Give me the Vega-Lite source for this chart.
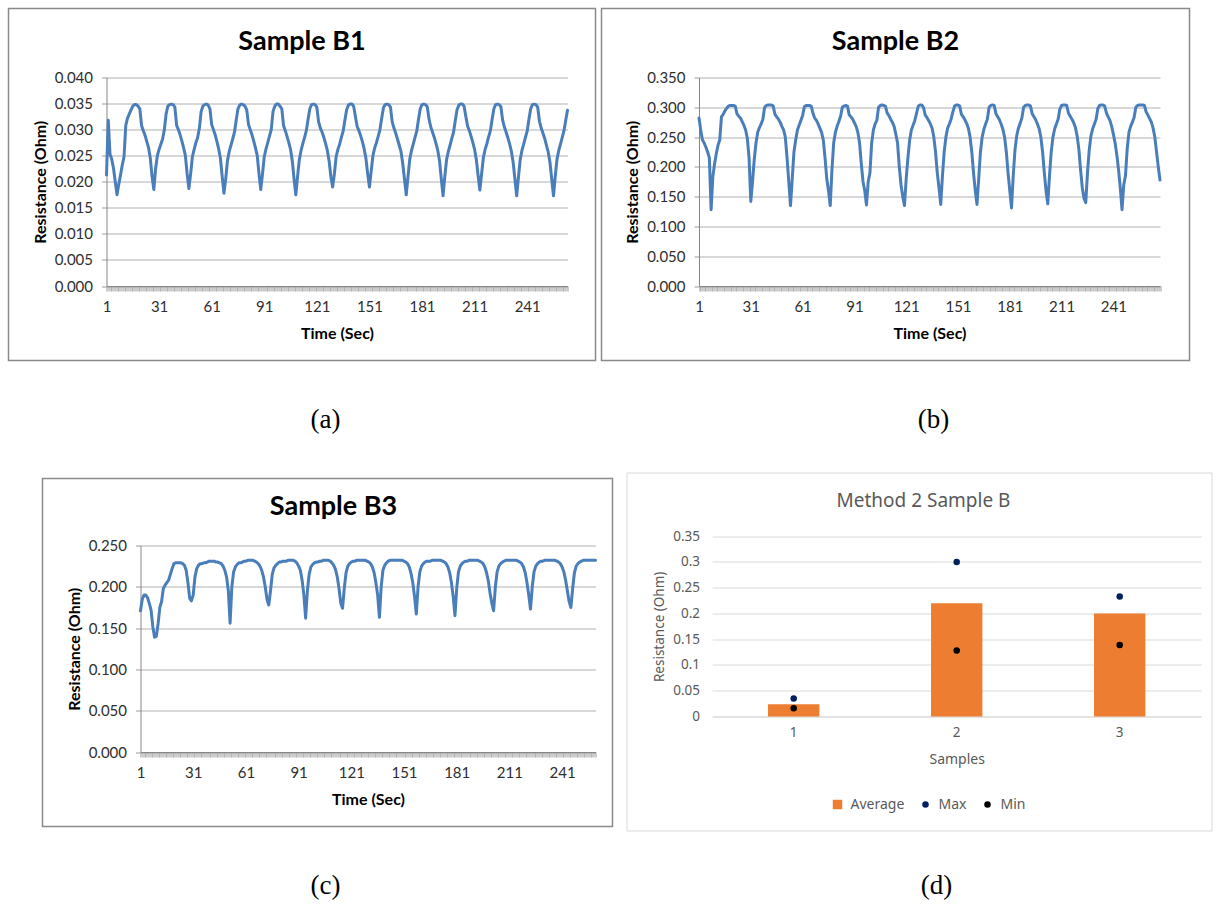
{
  "$schema": "https://vega.github.io/schema/vega-lite/v6.json",
  "background": "#ffffff",
  "padding": {"left": 7.5, "top": 7.5, "right": 2, "bottom": 2},
  "autosize": {"type": "pad"},
  "config": {
    "view": {"stroke": null},
    "title": {"font": "Lato", "fontWeight": "bold", "color": "#000000", "frame": "group", "anchor": "middle"},
    "axis": {
      "domainColor": "#868686", "domainWidth": 1,
      "tickColor": "#9a9a9a", "tickSize": 5, "tickWidth": 1,
      "gridColor": "#b0b0b0", "gridWidth": 1,
      "labelFont": "Lato", "labelFontSize": 15, "labelColor": "#2e2e2e",
      "titleFont": "Lato", "titleFontSize": 16, "titleFontWeight": "bold", "titleColor": "#000000"
    },
    "axisX": {"grid": false, "labelPadding": 8, "titlePadding": 11, "labelOverlap": false, "labelFlush": false},
    "axisY": {"grid": true, "labelPadding": 9, "titlePadding": 6}
  },
  "datasets": {
    "b1": [
      {"t":1,"r":0.0213},{"t":2,"r":0.0318},{"t":3,"r":0.0253},{"t":4,"r":0.0243},{"t":5,"r":0.0226},{"t":6,"r":0.0200},{"t":7,"r":0.0175},{"t":8,"r":0.0195},{"t":9,"r":0.0213},{"t":10,"r":0.0232},
      {"t":11,"r":0.0248},{"t":12,"r":0.0308},{"t":13,"r":0.0322},{"t":14,"r":0.0330},{"t":15,"r":0.0338},{"t":16,"r":0.0345},{"t":17,"r":0.0348},{"t":18,"r":0.0348},{"t":19,"r":0.0345},{"t":20,"r":0.0340},
      {"t":21,"r":0.0308},{"t":22,"r":0.0298},{"t":23,"r":0.0289},{"t":24,"r":0.0277},{"t":25,"r":0.0265},{"t":26,"r":0.0245},{"t":27,"r":0.0210},{"t":28,"r":0.0185},{"t":29,"r":0.0225},{"t":30,"r":0.0250},
      {"t":31,"r":0.0262},{"t":32,"r":0.0272},{"t":33,"r":0.0282},{"t":34,"r":0.0300},{"t":35,"r":0.0330},{"t":36,"r":0.0345},{"t":37,"r":0.0348},{"t":38,"r":0.0349},{"t":39,"r":0.0348},{"t":40,"r":0.0343},
      {"t":41,"r":0.0308},{"t":42,"r":0.0300},{"t":43,"r":0.0290},{"t":44,"r":0.0278},{"t":45,"r":0.0265},{"t":46,"r":0.0250},{"t":47,"r":0.0215},{"t":48,"r":0.0187},{"t":49,"r":0.0215},{"t":50,"r":0.0248},
      {"t":51,"r":0.0262},{"t":52,"r":0.0275},{"t":53,"r":0.0285},{"t":54,"r":0.0303},{"t":55,"r":0.0335},{"t":56,"r":0.0345},{"t":57,"r":0.0348},{"t":58,"r":0.0349},{"t":59,"r":0.0347},{"t":60,"r":0.0340},
      {"t":61,"r":0.0310},{"t":62,"r":0.0300},{"t":63,"r":0.0290},{"t":64,"r":0.0277},{"t":65,"r":0.0263},{"t":66,"r":0.0245},{"t":67,"r":0.0210},{"t":68,"r":0.0178},{"t":69,"r":0.0205},{"t":70,"r":0.0240},
      {"t":71,"r":0.0258},{"t":72,"r":0.0270},{"t":73,"r":0.0282},{"t":74,"r":0.0295},{"t":75,"r":0.0318},{"t":76,"r":0.0340},{"t":77,"r":0.0347},{"t":78,"r":0.0349},{"t":79,"r":0.0348},{"t":80,"r":0.0345},
      {"t":81,"r":0.0338},{"t":82,"r":0.0310},{"t":83,"r":0.0300},{"t":84,"r":0.0290},{"t":85,"r":0.0278},{"t":86,"r":0.0265},{"t":87,"r":0.0250},{"t":88,"r":0.0215},{"t":89,"r":0.0185},{"t":90,"r":0.0215},
      {"t":91,"r":0.0248},{"t":92,"r":0.0263},{"t":93,"r":0.0275},{"t":94,"r":0.0288},{"t":95,"r":0.0300},{"t":96,"r":0.0335},{"t":97,"r":0.0345},{"t":98,"r":0.0349},{"t":99,"r":0.0349},{"t":100,"r":0.0345},
      {"t":101,"r":0.0340},{"t":102,"r":0.0308},{"t":103,"r":0.0298},{"t":104,"r":0.0287},{"t":105,"r":0.0275},{"t":106,"r":0.0262},{"t":107,"r":0.0240},{"t":108,"r":0.0205},{"t":109,"r":0.0175},{"t":110,"r":0.0210},
      {"t":111,"r":0.0242},{"t":112,"r":0.0260},{"t":113,"r":0.0273},{"t":114,"r":0.0285},{"t":115,"r":0.0298},{"t":116,"r":0.0320},{"t":117,"r":0.0340},{"t":118,"r":0.0348},{"t":119,"r":0.0349},{"t":120,"r":0.0348},
      {"t":121,"r":0.0343},{"t":122,"r":0.0315},{"t":123,"r":0.0303},{"t":124,"r":0.0295},{"t":125,"r":0.0285},{"t":126,"r":0.0273},{"t":127,"r":0.0260},{"t":128,"r":0.0240},{"t":129,"r":0.0210},{"t":130,"r":0.0190},
      {"t":131,"r":0.0215},{"t":132,"r":0.0248},{"t":133,"r":0.0262},{"t":134,"r":0.0272},{"t":135,"r":0.0285},{"t":136,"r":0.0297},{"t":137,"r":0.0318},{"t":138,"r":0.0338},{"t":139,"r":0.0347},{"t":140,"r":0.0349},
      {"t":141,"r":0.0349},{"t":142,"r":0.0345},{"t":143,"r":0.0325},{"t":144,"r":0.0306},{"t":145,"r":0.0298},{"t":146,"r":0.0288},{"t":147,"r":0.0277},{"t":148,"r":0.0263},{"t":149,"r":0.0245},{"t":150,"r":0.0215},
      {"t":151,"r":0.0190},{"t":152,"r":0.0220},{"t":153,"r":0.0250},{"t":154,"r":0.0265},{"t":155,"r":0.0275},{"t":156,"r":0.0287},{"t":157,"r":0.0300},{"t":158,"r":0.0322},{"t":159,"r":0.0342},{"t":160,"r":0.0348},
      {"t":161,"r":0.0349},{"t":162,"r":0.0348},{"t":163,"r":0.0343},{"t":164,"r":0.0315},{"t":165,"r":0.0303},{"t":166,"r":0.0293},{"t":167,"r":0.0282},{"t":168,"r":0.0270},{"t":169,"r":0.0258},{"t":170,"r":0.0235},
      {"t":171,"r":0.0205},{"t":172,"r":0.0175},{"t":173,"r":0.0210},{"t":174,"r":0.0243},{"t":175,"r":0.0260},{"t":176,"r":0.0272},{"t":177,"r":0.0285},{"t":178,"r":0.0297},{"t":179,"r":0.0320},{"t":180,"r":0.0340},
      {"t":181,"r":0.0348},{"t":182,"r":0.0349},{"t":183,"r":0.0348},{"t":184,"r":0.0344},{"t":185,"r":0.0320},{"t":186,"r":0.0305},{"t":187,"r":0.0295},{"t":188,"r":0.0285},{"t":189,"r":0.0273},{"t":190,"r":0.0260},
      {"t":191,"r":0.0240},{"t":192,"r":0.0205},{"t":193,"r":0.0173},{"t":194,"r":0.0210},{"t":195,"r":0.0242},{"t":196,"r":0.0258},{"t":197,"r":0.0270},{"t":198,"r":0.0283},{"t":199,"r":0.0295},{"t":200,"r":0.0318},
      {"t":201,"r":0.0338},{"t":202,"r":0.0347},{"t":203,"r":0.0349},{"t":204,"r":0.0349},{"t":205,"r":0.0345},{"t":206,"r":0.0325},{"t":207,"r":0.0307},{"t":208,"r":0.0298},{"t":209,"r":0.0287},{"t":210,"r":0.0275},
      {"t":211,"r":0.0262},{"t":212,"r":0.0242},{"t":213,"r":0.0212},{"t":214,"r":0.0184},{"t":215,"r":0.0215},{"t":216,"r":0.0246},{"t":217,"r":0.0262},{"t":218,"r":0.0273},{"t":219,"r":0.0286},{"t":220,"r":0.0298},
      {"t":221,"r":0.0320},{"t":222,"r":0.0340},{"t":223,"r":0.0348},{"t":224,"r":0.0349},{"t":225,"r":0.0348},{"t":226,"r":0.0344},{"t":227,"r":0.0318},{"t":228,"r":0.0305},{"t":229,"r":0.0295},{"t":230,"r":0.0284},
      {"t":231,"r":0.0272},{"t":232,"r":0.0258},{"t":233,"r":0.0237},{"t":234,"r":0.0205},{"t":235,"r":0.0173},{"t":236,"r":0.0208},{"t":237,"r":0.0242},{"t":238,"r":0.0260},{"t":239,"r":0.0272},{"t":240,"r":0.0285},
      {"t":241,"r":0.0297},{"t":242,"r":0.0320},{"t":243,"r":0.0340},{"t":244,"r":0.0348},{"t":245,"r":0.0349},{"t":246,"r":0.0348},{"t":247,"r":0.0343},{"t":248,"r":0.0316},{"t":249,"r":0.0303},{"t":250,"r":0.0293},
      {"t":251,"r":0.0283},{"t":252,"r":0.0270},{"t":253,"r":0.0257},{"t":254,"r":0.0237},{"t":255,"r":0.0205},{"t":256,"r":0.0173},{"t":257,"r":0.0210},{"t":258,"r":0.0243},{"t":259,"r":0.0260},{"t":260,"r":0.0272},
      {"t":261,"r":0.0285},{"t":262,"r":0.0298},{"t":263,"r":0.0318},{"t":264,"r":0.0337}
    ],
    "b2": [
      {"t":1,"r":0.282},{"t":2,"r":0.262},{"t":3,"r":0.245},{"t":4,"r":0.240},{"t":5,"r":0.233},{"t":6,"r":0.225},{"t":7,"r":0.215},{"t":8,"r":0.128},{"t":9,"r":0.183},{"t":10,"r":0.205},
      {"t":11,"r":0.222},{"t":12,"r":0.236},{"t":13,"r":0.245},{"t":14,"r":0.284},{"t":15,"r":0.288},{"t":16,"r":0.294},{"t":17,"r":0.298},{"t":18,"r":0.302},{"t":19,"r":0.303},{"t":20,"r":0.303},
      {"t":21,"r":0.303},{"t":22,"r":0.302},{"t":23,"r":0.289},{"t":24,"r":0.285},{"t":25,"r":0.282},{"t":26,"r":0.276},{"t":27,"r":0.270},{"t":28,"r":0.262},{"t":29,"r":0.248},{"t":30,"r":0.215},
      {"t":31,"r":0.142},{"t":32,"r":0.175},{"t":33,"r":0.212},{"t":34,"r":0.240},{"t":35,"r":0.258},{"t":36,"r":0.266},{"t":37,"r":0.272},{"t":38,"r":0.280},{"t":39,"r":0.300},{"t":40,"r":0.303},
      {"t":41,"r":0.304},{"t":42,"r":0.304},{"t":43,"r":0.304},{"t":44,"r":0.302},{"t":45,"r":0.288},{"t":46,"r":0.284},{"t":47,"r":0.280},{"t":48,"r":0.275},{"t":49,"r":0.268},{"t":50,"r":0.262},
      {"t":51,"r":0.250},{"t":52,"r":0.215},{"t":53,"r":0.175},{"t":54,"r":0.135},{"t":55,"r":0.180},{"t":56,"r":0.225},{"t":57,"r":0.245},{"t":58,"r":0.262},{"t":59,"r":0.270},{"t":60,"r":0.278},
      {"t":61,"r":0.286},{"t":62,"r":0.301},{"t":63,"r":0.303},{"t":64,"r":0.303},{"t":65,"r":0.303},{"t":66,"r":0.302},{"t":67,"r":0.290},{"t":68,"r":0.282},{"t":69,"r":0.278},{"t":70,"r":0.272},
      {"t":71,"r":0.265},{"t":72,"r":0.258},{"t":73,"r":0.245},{"t":74,"r":0.215},{"t":75,"r":0.180},{"t":76,"r":0.160},{"t":77,"r":0.135},{"t":78,"r":0.195},{"t":79,"r":0.240},{"t":80,"r":0.258},
      {"t":81,"r":0.268},{"t":82,"r":0.276},{"t":83,"r":0.285},{"t":84,"r":0.300},{"t":85,"r":0.302},{"t":86,"r":0.303},{"t":87,"r":0.302},{"t":88,"r":0.287},{"t":89,"r":0.284},{"t":90,"r":0.280},
      {"t":91,"r":0.274},{"t":92,"r":0.268},{"t":93,"r":0.258},{"t":94,"r":0.240},{"t":95,"r":0.205},{"t":96,"r":0.175},{"t":97,"r":0.160},{"t":98,"r":0.136},{"t":99,"r":0.175},{"t":100,"r":0.190},
      {"t":101,"r":0.240},{"t":102,"r":0.262},{"t":103,"r":0.272},{"t":104,"r":0.278},{"t":105,"r":0.300},{"t":106,"r":0.303},{"t":107,"r":0.304},{"t":108,"r":0.303},{"t":109,"r":0.302},{"t":110,"r":0.290},
      {"t":111,"r":0.286},{"t":112,"r":0.280},{"t":113,"r":0.275},{"t":114,"r":0.268},{"t":115,"r":0.255},{"t":116,"r":0.240},{"t":117,"r":0.200},{"t":118,"r":0.170},{"t":119,"r":0.150},{"t":120,"r":0.135},
      {"t":121,"r":0.180},{"t":122,"r":0.215},{"t":123,"r":0.245},{"t":124,"r":0.262},{"t":125,"r":0.270},{"t":126,"r":0.278},{"t":127,"r":0.290},{"t":128,"r":0.302},{"t":129,"r":0.304},{"t":130,"r":0.304},
      {"t":131,"r":0.300},{"t":132,"r":0.287},{"t":133,"r":0.283},{"t":134,"r":0.278},{"t":135,"r":0.272},{"t":136,"r":0.265},{"t":137,"r":0.250},{"t":138,"r":0.225},{"t":139,"r":0.190},{"t":140,"r":0.165},
      {"t":141,"r":0.137},{"t":142,"r":0.185},{"t":143,"r":0.225},{"t":144,"r":0.250},{"t":145,"r":0.265},{"t":146,"r":0.272},{"t":147,"r":0.280},{"t":148,"r":0.292},{"t":149,"r":0.302},{"t":150,"r":0.304},
      {"t":151,"r":0.304},{"t":152,"r":0.302},{"t":153,"r":0.288},{"t":154,"r":0.284},{"t":155,"r":0.279},{"t":156,"r":0.273},{"t":157,"r":0.265},{"t":158,"r":0.250},{"t":159,"r":0.225},{"t":160,"r":0.190},
      {"t":161,"r":0.160},{"t":162,"r":0.137},{"t":163,"r":0.180},{"t":164,"r":0.225},{"t":165,"r":0.250},{"t":166,"r":0.263},{"t":167,"r":0.272},{"t":168,"r":0.280},{"t":169,"r":0.300},{"t":170,"r":0.303},
      {"t":171,"r":0.304},{"t":172,"r":0.303},{"t":173,"r":0.289},{"t":174,"r":0.284},{"t":175,"r":0.279},{"t":176,"r":0.272},{"t":177,"r":0.263},{"t":178,"r":0.250},{"t":179,"r":0.225},{"t":180,"r":0.190},
      {"t":181,"r":0.160},{"t":182,"r":0.131},{"t":183,"r":0.185},{"t":184,"r":0.228},{"t":185,"r":0.252},{"t":186,"r":0.265},{"t":187,"r":0.273},{"t":188,"r":0.282},{"t":189,"r":0.300},{"t":190,"r":0.303},
      {"t":191,"r":0.304},{"t":192,"r":0.304},{"t":193,"r":0.302},{"t":194,"r":0.289},{"t":195,"r":0.284},{"t":196,"r":0.279},{"t":197,"r":0.272},{"t":198,"r":0.264},{"t":199,"r":0.250},{"t":200,"r":0.225},
      {"t":201,"r":0.190},{"t":202,"r":0.160},{"t":203,"r":0.138},{"t":204,"r":0.185},{"t":205,"r":0.225},{"t":206,"r":0.250},{"t":207,"r":0.264},{"t":208,"r":0.272},{"t":209,"r":0.280},{"t":210,"r":0.297},
      {"t":211,"r":0.303},{"t":212,"r":0.304},{"t":213,"r":0.304},{"t":214,"r":0.303},{"t":215,"r":0.290},{"t":216,"r":0.285},{"t":217,"r":0.280},{"t":218,"r":0.274},{"t":219,"r":0.266},{"t":220,"r":0.252},
      {"t":221,"r":0.230},{"t":222,"r":0.195},{"t":223,"r":0.165},{"t":224,"r":0.147},{"t":225,"r":0.140},{"t":226,"r":0.190},{"t":227,"r":0.228},{"t":228,"r":0.252},{"t":229,"r":0.264},{"t":230,"r":0.272},
      {"t":231,"r":0.280},{"t":232,"r":0.298},{"t":233,"r":0.303},{"t":234,"r":0.304},{"t":235,"r":0.304},{"t":236,"r":0.302},{"t":237,"r":0.290},{"t":238,"r":0.284},{"t":239,"r":0.278},{"t":240,"r":0.268},
      {"t":241,"r":0.255},{"t":242,"r":0.240},{"t":243,"r":0.220},{"t":244,"r":0.195},{"t":245,"r":0.165},{"t":246,"r":0.128},{"t":247,"r":0.170},{"t":248,"r":0.185},{"t":249,"r":0.230},{"t":250,"r":0.258},
      {"t":251,"r":0.268},{"t":252,"r":0.275},{"t":253,"r":0.283},{"t":254,"r":0.300},{"t":255,"r":0.303},{"t":256,"r":0.304},{"t":257,"r":0.304},{"t":258,"r":0.304},{"t":259,"r":0.303},{"t":260,"r":0.292},
      {"t":261,"r":0.287},{"t":262,"r":0.281},{"t":263,"r":0.275},{"t":264,"r":0.265},{"t":265,"r":0.250},{"t":266,"r":0.225},{"t":267,"r":0.200},{"t":268,"r":0.178}
    ],
    "b3": [
      {"t":1,"r":0.171},{"t":2,"r":0.185},{"t":3,"r":0.190},{"t":4,"r":0.190},{"t":5,"r":0.187},{"t":6,"r":0.180},{"t":7,"r":0.172},{"t":8,"r":0.152},{"t":9,"r":0.139},{"t":10,"r":0.140},
      {"t":11,"r":0.155},{"t":12,"r":0.175},{"t":13,"r":0.182},{"t":14,"r":0.198},{"t":15,"r":0.202},{"t":16,"r":0.205},{"t":17,"r":0.208},{"t":18,"r":0.215},{"t":19,"r":0.222},{"t":20,"r":0.228},
      {"t":21,"r":0.229},{"t":22,"r":0.229},{"t":23,"r":0.229},{"t":24,"r":0.229},{"t":25,"r":0.228},{"t":26,"r":0.226},{"t":27,"r":0.220},{"t":28,"r":0.205},{"t":29,"r":0.186},{"t":30,"r":0.183},
      {"t":31,"r":0.190},{"t":32,"r":0.212},{"t":33,"r":0.222},{"t":34,"r":0.226},{"t":35,"r":0.228},{"t":36,"r":0.228},{"t":37,"r":0.229},{"t":38,"r":0.229},{"t":39,"r":0.230},{"t":40,"r":0.231},
      {"t":41,"r":0.231},{"t":42,"r":0.231},{"t":43,"r":0.231},{"t":44,"r":0.230},{"t":45,"r":0.230},{"t":46,"r":0.229},{"t":47,"r":0.228},{"t":48,"r":0.225},{"t":49,"r":0.220},{"t":50,"r":0.212},
      {"t":51,"r":0.195},{"t":52,"r":0.156},{"t":53,"r":0.200},{"t":54,"r":0.218},{"t":55,"r":0.224},{"t":56,"r":0.227},{"t":57,"r":0.229},{"t":58,"r":0.229},{"t":59,"r":0.230},{"t":60,"r":0.231},
      {"t":61,"r":0.231},{"t":62,"r":0.232},{"t":63,"r":0.232},{"t":64,"r":0.232},{"t":65,"r":0.232},{"t":66,"r":0.231},{"t":67,"r":0.230},{"t":68,"r":0.228},{"t":69,"r":0.225},{"t":70,"r":0.220},
      {"t":71,"r":0.212},{"t":72,"r":0.200},{"t":73,"r":0.185},{"t":74,"r":0.178},{"t":75,"r":0.195},{"t":76,"r":0.215},{"t":77,"r":0.223},{"t":78,"r":0.226},{"t":79,"r":0.228},{"t":80,"r":0.230},
      {"t":81,"r":0.230},{"t":82,"r":0.231},{"t":83,"r":0.231},{"t":84,"r":0.231},{"t":85,"r":0.232},{"t":86,"r":0.232},{"t":87,"r":0.232},{"t":88,"r":0.232},{"t":89,"r":0.231},{"t":90,"r":0.229},
      {"t":91,"r":0.225},{"t":92,"r":0.220},{"t":93,"r":0.208},{"t":94,"r":0.190},{"t":95,"r":0.162},{"t":96,"r":0.195},{"t":97,"r":0.215},{"t":98,"r":0.224},{"t":99,"r":0.227},{"t":100,"r":0.229},
      {"t":101,"r":0.230},{"t":102,"r":0.230},{"t":103,"r":0.231},{"t":104,"r":0.231},{"t":105,"r":0.232},{"t":106,"r":0.232},{"t":107,"r":0.232},{"t":108,"r":0.232},{"t":109,"r":0.231},{"t":110,"r":0.229},
      {"t":111,"r":0.226},{"t":112,"r":0.221},{"t":113,"r":0.212},{"t":114,"r":0.198},{"t":115,"r":0.180},{"t":116,"r":0.174},{"t":117,"r":0.198},{"t":118,"r":0.217},{"t":119,"r":0.225},{"t":120,"r":0.228},
      {"t":121,"r":0.230},{"t":122,"r":0.231},{"t":123,"r":0.231},{"t":124,"r":0.232},{"t":125,"r":0.232},{"t":126,"r":0.232},{"t":127,"r":0.232},{"t":128,"r":0.232},{"t":129,"r":0.232},{"t":130,"r":0.231},
      {"t":131,"r":0.230},{"t":132,"r":0.228},{"t":133,"r":0.224},{"t":134,"r":0.217},{"t":135,"r":0.205},{"t":136,"r":0.190},{"t":137,"r":0.163},{"t":138,"r":0.200},{"t":139,"r":0.220},{"t":140,"r":0.226},
      {"t":141,"r":0.229},{"t":142,"r":0.231},{"t":143,"r":0.232},{"t":144,"r":0.232},{"t":145,"r":0.232},{"t":146,"r":0.232},{"t":147,"r":0.232},{"t":148,"r":0.232},{"t":149,"r":0.232},{"t":150,"r":0.232},
      {"t":151,"r":0.231},{"t":152,"r":0.230},{"t":153,"r":0.228},{"t":154,"r":0.224},{"t":155,"r":0.216},{"t":156,"r":0.205},{"t":157,"r":0.188},{"t":158,"r":0.167},{"t":159,"r":0.200},{"t":160,"r":0.218},
      {"t":161,"r":0.225},{"t":162,"r":0.228},{"t":163,"r":0.230},{"t":164,"r":0.231},{"t":165,"r":0.231},{"t":166,"r":0.231},{"t":167,"r":0.232},{"t":168,"r":0.232},{"t":169,"r":0.232},{"t":170,"r":0.232},
      {"t":171,"r":0.232},{"t":172,"r":0.232},{"t":173,"r":0.231},{"t":174,"r":0.230},{"t":175,"r":0.228},{"t":176,"r":0.224},{"t":177,"r":0.217},{"t":178,"r":0.205},{"t":179,"r":0.188},{"t":180,"r":0.165},
      {"t":181,"r":0.198},{"t":182,"r":0.218},{"t":183,"r":0.225},{"t":184,"r":0.228},{"t":185,"r":0.230},{"t":186,"r":0.231},{"t":187,"r":0.231},{"t":188,"r":0.232},{"t":189,"r":0.232},{"t":190,"r":0.232},
      {"t":191,"r":0.232},{"t":192,"r":0.232},{"t":193,"r":0.232},{"t":194,"r":0.231},{"t":195,"r":0.230},{"t":196,"r":0.228},{"t":197,"r":0.224},{"t":198,"r":0.217},{"t":199,"r":0.207},{"t":200,"r":0.192},
      {"t":201,"r":0.180},{"t":202,"r":0.171},{"t":203,"r":0.200},{"t":204,"r":0.218},{"t":205,"r":0.225},{"t":206,"r":0.228},{"t":207,"r":0.230},{"t":208,"r":0.231},{"t":209,"r":0.232},{"t":210,"r":0.232},
      {"t":211,"r":0.232},{"t":212,"r":0.232},{"t":213,"r":0.232},{"t":214,"r":0.232},{"t":215,"r":0.232},{"t":216,"r":0.231},{"t":217,"r":0.230},{"t":218,"r":0.228},{"t":219,"r":0.224},{"t":220,"r":0.217},
      {"t":221,"r":0.205},{"t":222,"r":0.190},{"t":223,"r":0.173},{"t":224,"r":0.200},{"t":225,"r":0.218},{"t":226,"r":0.225},{"t":227,"r":0.228},{"t":228,"r":0.230},{"t":229,"r":0.231},{"t":230,"r":0.231},
      {"t":231,"r":0.232},{"t":232,"r":0.232},{"t":233,"r":0.232},{"t":234,"r":0.232},{"t":235,"r":0.232},{"t":236,"r":0.232},{"t":237,"r":0.232},{"t":238,"r":0.231},{"t":239,"r":0.230},{"t":240,"r":0.228},
      {"t":241,"r":0.224},{"t":242,"r":0.218},{"t":243,"r":0.208},{"t":244,"r":0.195},{"t":245,"r":0.182},{"t":246,"r":0.175},{"t":247,"r":0.198},{"t":248,"r":0.217},{"t":249,"r":0.225},{"t":250,"r":0.228},
      {"t":251,"r":0.230},{"t":252,"r":0.231},{"t":253,"r":0.232},{"t":254,"r":0.232},{"t":255,"r":0.232},{"t":256,"r":0.232},{"t":257,"r":0.232},{"t":258,"r":0.232},{"t":259,"r":0.232},{"t":260,"r":0.232}
    ],
    "summary": [
      {"sample":"1","series":"Average","value":0.024},
      {"sample":"1","series":"Max","value":0.035},
      {"sample":"1","series":"Min","value":0.016},
      {"sample":"2","series":"Average","value":0.22},
      {"sample":"2","series":"Max","value":0.30},
      {"sample":"2","series":"Min","value":0.128},
      {"sample":"3","series":"Average","value":0.20},
      {"sample":"3","series":"Max","value":0.233},
      {"sample":"3","series":"Min","value":0.139}
    ]
  },
  "spacing": 38,
  "vconcat": [
    {
      "spacing": 4,
      "hconcat": [
        {
          "title": {"text": "(a)", "orient": "bottom", "anchor": "middle", "frame": "bounds", "offset": 45.5, "dx": 23.5, "font": "Liberation Serif", "fontSize": 27, "fontWeight": "normal"},
          "vconcat": [
            {
              "width": 587, "height": 352,
              "view": {"stroke": "#8a8a8a", "strokeWidth": 1.5},
              "title": {"text": "Sample B1", "offset": -47, "fontSize": 27},
              "data": {"name": "b1"},
              "mark": {"type": "line", "color": "#4a7ebb", "strokeWidth": 3, "strokeJoin": "round", "strokeCap": "round"},
              "encoding": {
                "x": {"field": "t", "type": "quantitative",
                  "scale": {"domain": [1, 264], "range": [98, 559], "nice": false, "zero": false},
                  "axis": {"title": "Time (Sec)", "offset": -74.5, "tickCount": 264, "labelExpr": "(datum.value - 1) % 30 === 0 ? datum.label : ''"}},
                "y": {"field": "r", "type": "quantitative",
                  "scale": {"domain": [0, 0.04], "range": [277.5, 69], "nice": false},
                  "axis": {"title": "Resistance (Ohm)", "offset": -98, "values": [0, 0.005, 0.01, 0.015, 0.02, 0.025, 0.03, 0.035, 0.04], "format": ".3f"}}
              }
            }
          ]
        },
        {
          "title": {"text": "(b)", "orient": "bottom", "anchor": "middle", "frame": "bounds", "offset": 45.5, "dx": 38, "font": "Liberation Serif", "fontSize": 27, "fontWeight": "normal"},
          "vconcat": [
            {
              "width": 588, "height": 352,
              "view": {"stroke": "#8a8a8a", "strokeWidth": 1.5},
              "title": {"text": "Sample B2", "offset": -47, "fontSize": 27},
              "data": {"name": "b2"},
              "mark": {"type": "line", "color": "#4a7ebb", "strokeWidth": 3, "strokeJoin": "round", "strokeCap": "round"},
              "encoding": {
                "x": {"field": "t", "type": "quantitative",
                  "scale": {"domain": [1, 268], "range": [97.5, 558.5], "nice": false, "zero": false},
                  "axis": {"title": "Time (Sec)", "offset": -74.5, "tickCount": 268, "labelExpr": "(datum.value - 1) % 30 === 0 ? datum.label : ''"}},
                "y": {"field": "r", "type": "quantitative",
                  "scale": {"domain": [0, 0.35], "range": [277.5, 69], "nice": false},
                  "axis": {"title": "Resistance (Ohm)", "offset": -97.5, "values": [0, 0.05, 0.1, 0.15, 0.2, 0.25, 0.3, 0.35], "format": ".3f"}}
              }
            }
          ]
        }
      ]
    },
    {
      "spacing": 12,
      "hconcat": [
        {"width": 21, "height": 1, "data": {"values": []}, "mark": "point"},
        {
          "title": {"text": "(c)", "orient": "bottom", "anchor": "middle", "frame": "bounds", "offset": 45.5, "dx": -2, "font": "Liberation Serif", "fontSize": 27, "fontWeight": "normal"},
          "spacing": 4,
          "vconcat": [
            {"width": 1, "height": 1, "data": {"values": []}, "mark": "point"},
            {
              "width": 570, "height": 348,
              "view": {"stroke": "#8a8a8a", "strokeWidth": 1.5},
              "title": {"text": "Sample B3", "offset": -42, "dx": 6, "fontSize": 27},
              "data": {"name": "b3"},
              "mark": {"type": "line", "color": "#4a7ebb", "strokeWidth": 3, "strokeJoin": "round", "strokeCap": "round"},
              "encoding": {
                "x": {"field": "t", "type": "quantitative",
                  "scale": {"domain": [1, 260], "range": [98, 553], "nice": false, "zero": false},
                  "axis": {"title": "Time (Sec)", "offset": -74.5, "tickCount": 260, "labelExpr": "(datum.value - 1) % 30 === 0 ? datum.label : ''"}},
                "y": {"field": "r", "type": "quantitative",
                  "scale": {"domain": [0, 0.25], "range": [273.5, 67], "nice": false},
                  "axis": {"title": "Resistance (Ohm)", "offset": -98, "values": [0, 0.05, 0.1, 0.15, 0.2, 0.25], "format": ".3f"}}
              }
            }
          ]
        },
        {
          "title": {"text": "(d)", "orient": "bottom", "anchor": "middle", "frame": "bounds", "offset": 41.5, "dx": 17.5, "font": "Liberation Serif", "fontSize": 27, "fontWeight": "normal"},
          "vconcat": [
            {
              "width": 585, "height": 358,
              "view": {"stroke": "#d9d9d9", "strokeWidth": 1},
              "title": {"text": "Method 2 Sample B", "offset": -38.5, "dx": 4.5, "font": "Noto Sans", "fontSize": 19, "fontWeight": "normal", "color": "#595959"},
              "data": {"name": "summary"},
              "encoding": {
                "x": {"field": "sample", "type": "nominal", "sort": ["1", "2", "3"],
                  "scale": {"range": [85.7, 574.7], "paddingInner": 0.685, "paddingOuter": 0.3425},
                  "axis": {"title": "Samples", "offset": -114, "labelAngle": 0, "ticks": false, "tickSize": 0,
                    "domainColor": "#d9d9d9", "labelPadding": 9, "titlePadding": 13,
                    "labelFont": "Noto Sans", "labelFontSize": 13.5, "labelColor": "#595959",
                    "titleFont": "Noto Sans", "titleFontSize": 14, "titleFontWeight": "normal", "titleColor": "#595959"}},
                "y": {"field": "value", "type": "quantitative",
                  "scale": {"domain": [0, 0.35], "range": [244, 63.7], "nice": false},
                  "axis": {"title": "Resistance (Ohm)", "offset": -85.7, "values": [0, 0.05, 0.1, 0.15, 0.2, 0.25, 0.3, 0.35], "format": "~g",
                    "domain": false, "ticks": false, "tickSize": 0, "labelPadding": 12.7, "titlePadding": 6,
                    "gridColor": "#d9d9d9",
                    "labelFont": "Noto Sans", "labelFontSize": 13.5, "labelColor": "#595959",
                    "titleFont": "Noto Sans", "titleFontSize": 13.5, "titleFontWeight": "normal", "titleColor": "#595959"}},
                "color": {"field": "series", "type": "nominal",
                  "scale": {"domain": ["Average", "Max", "Min"], "range": ["#ed7d31", "#002060", "#000000"]},
                  "legend": {"title": null, "orient": "none", "legendX": 822, "legendY": 789, "direction": "horizontal",
                    "labelFont": "Noto Sans", "labelFontSize": 14, "labelColor": "#595959",
                    "columnPadding": 14, "labelOffset": 6, "symbolStrokeWidth": 0,
                    "encode": {"symbols": {"update": {
                      "shape": {"signal": "datum.value === 'Average' ? 'square' : 'circle'"},
                      "size": {"signal": "datum.value === 'Average' ? 90 : 42"}}}}}}
              },
              "layer": [
                {"transform": [{"filter": "datum.series === 'Average'"}], "mark": {"type": "bar"}},
                {"transform": [{"filter": "datum.series !== 'Average'"}], "mark": {"type": "point", "filled": true, "size": 42, "opacity": 1}}
              ]
            }
          ]
        }
      ]
    }
  ]
}
